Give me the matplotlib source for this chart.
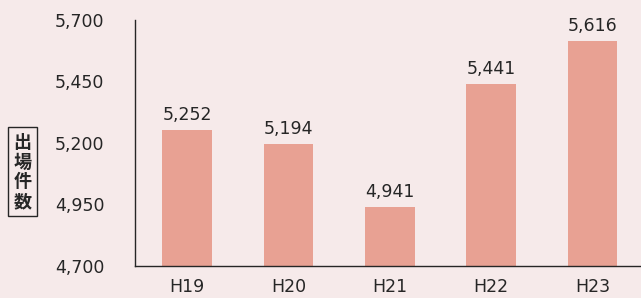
import matplotlib.pyplot as plt

plt.rcParams['font.family'] = ['DejaVu Sans', 'Noto Sans CJK JP']

years = ["H19", "H20", "H21", "H22", "H23"]
counts = [5252, 5194, 4941, 5441, 5616]
y_ticks = [4700, 4950, 5200, 5450, 5700]

bg = "#f6eaea"
bar_color = "#e8a193"
ink = "#262626"

fig = plt.figure(figsize=(6.41, 2.98), dpi=100, facecolor=bg)
ax = fig.add_axes([0.2106, 0.1074, 0.7894, 0.8255])
ax.set_facecolor(bg)

x = range(len(years))
ax.bar(x, counts, width=0.49, color=bar_color, zorder=2)

for i, v in zip(x, counts):
    ax.text(i, v + 25, f"{v:,}", ha="center", va="bottom", fontsize=12.5, color=ink)

ax.set_xlim(-0.514, 4.48)
ax.set_ylim(4700, 5700)
ax.set_yticks(y_ticks)
ax.set_yticklabels([f"{t:,}" for t in y_ticks])
ax.set_xticks(list(x))
ax.set_xticklabels(years)
ax.tick_params(axis="both", length=0, labelsize=12.5, colors=ink)
ax.tick_params(axis="y", pad=22)
ax.tick_params(axis="x", pad=9)

for s in ["top", "right"]:
    ax.spines[s].set_visible(False)
for s in ["left", "bottom"]:
    ax.spines[s].set_color(ink)
    ax.spines[s].set_linewidth(1.0)

fig.text(0.035, 0.423, "出\n場\n件\n数", ha="center", va="center",
         fontsize=13, fontweight="bold", family=["Noto Sans CJK JP"],
         linespacing=1.05, color=ink,
         bbox=dict(boxstyle="square,pad=0.3", facecolor="none", edgecolor=ink, linewidth=1))

fig.savefig("out.png", dpi=100, facecolor=bg)
